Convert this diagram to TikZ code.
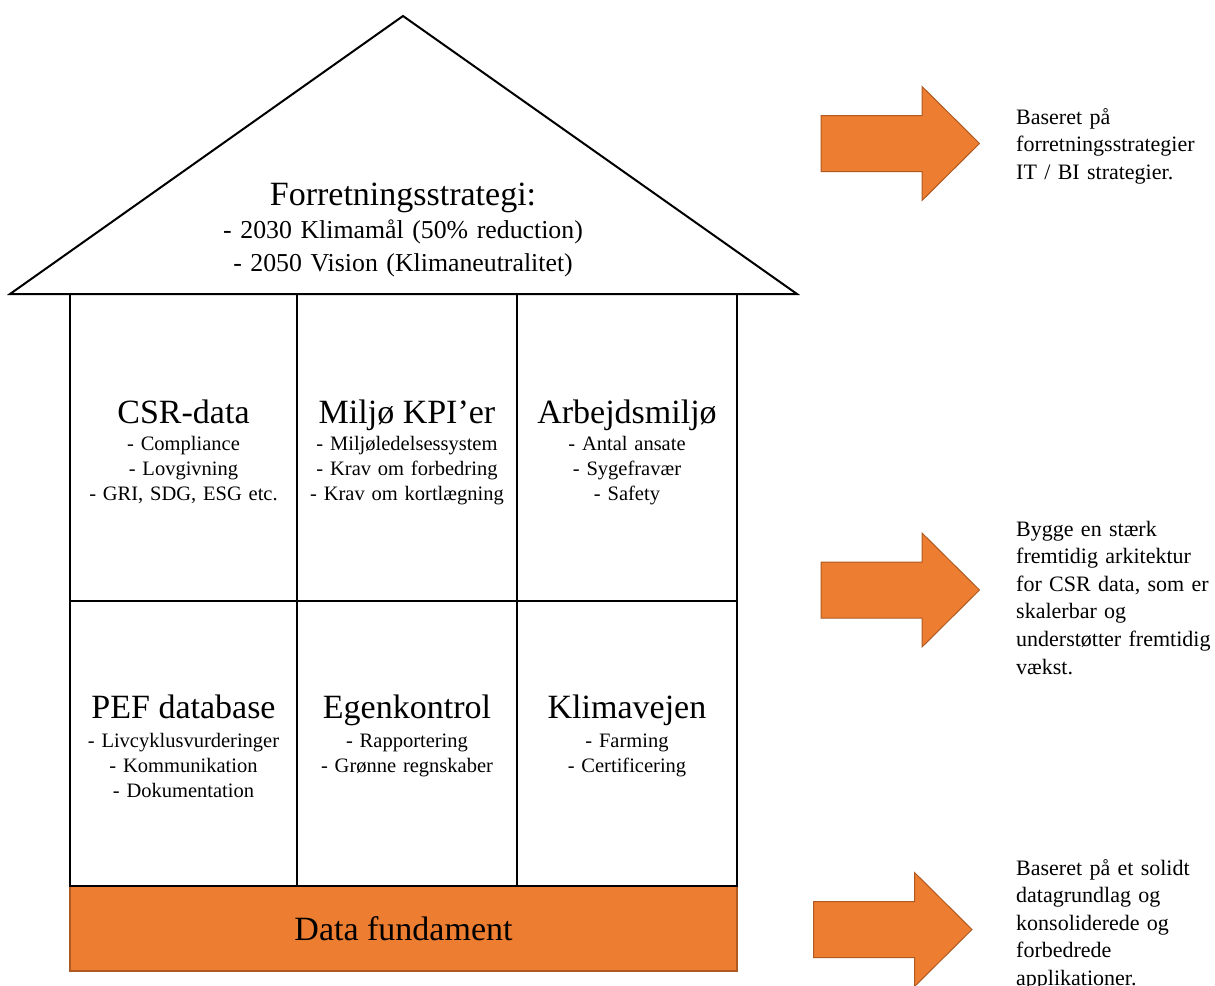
\documentclass[tikz,border=0pt]{standalone}
\usepackage{fontspec}
\setmainfont{Liberation Serif}
\usepackage{tikz}
\definecolor{Fund}{HTML}{ED7D31}
\definecolor{FundLine}{HTML}{AE5A21}

\begin{document}
\begin{tikzpicture}[x=1pt,y=-1pt,
  wall/.style={line width=2pt,draw=black},
  celltitle/.style={anchor=base,inner sep=0pt,font=\fontsize{34}{40}\selectfont},
  cellitems/.style={anchor=base,inner sep=0pt,text width=220pt,align=center,font=\fontsize{20.5}{25}\selectfont},
  sidenote/.style={anchor=base west,inner sep=0pt,text width=215pt,align=left,font=\fontsize{22}{27.6}\selectfont},
  bigarrow/.style={fill=Fund,draw=FundLine,line width=1pt,line join=miter}]
  \useasboundingbox (0,0) rectangle (1215,985);
  % foundation
  \node[fill=Fund,draw=FundLine,line width=1.5pt,minimum width=667pt,minimum height=85pt,inner sep=0pt,font=\fontsize{34}{40}\selectfont] (fund) at (403.5,928.5) {Data fundament};
  % roof and walls
  \draw[wall,line join=miter] (10,294) coordinate (eaveL) -- (403,16) coordinate (apex) -- (797,294) coordinate (eaveR) -- cycle;
  \draw[wall] (70,294) rectangle (737,886);
  \draw[wall] (297,294) -- (297,886) (517,294) -- (517,886) (70,601) -- (737,601);
  % roof text
  \node[celltitle] (strat) at (403,205) {Forretningsstrategi:};
  \node[cellitems,text width=400pt,font=\fontsize{25.8}{33}\selectfont] (stratitems) at (403,238)
    {- 2030 Klimamål (50\% reduction)\\- 2050 Vision (Klimaneutralitet)};
  % upper row
  \node[celltitle] (csr) at (183.5,423) {CSR-data};
  \node[cellitems] (csritems) at (183.5,450) {- Compliance\\- Lovgivning\\- GRI, SDG, ESG etc.};
  \node[celltitle] (kpi) at (407,423) {Miljø KPI’er};
  \node[cellitems] (kpiitems) at (407,450) {- Miljøledelsessystem\\- Krav om forbedring\\- Krav om kortlægning};
  \node[celltitle] (arb) at (627,423) {Arbejdsmiljø};
  \node[cellitems] (arbitems) at (627,450) {- Antal ansate\\- Sygefravær\\- Safety};
  % lower row
  \node[celltitle] (pef) at (183.5,718) {PEF database};
  \node[cellitems] (pefitems) at (183.5,747) {- Livcyklusvurderinger\\- Kommunikation\\- Dokumentation};
  \node[celltitle] (egen) at (407,718) {Egenkontrol};
  \node[cellitems] (egenitems) at (407,747) {- Rapportering\\- Grønne regnskaber};
  \node[celltitle] (klima) at (627,718) {Klimavejen};
  \node[cellitems] (klimaitems) at (627,747) {- Farming\\- Certificering};
  % arrows
  \foreach \ax/\ay in {821/143.5, 821/590, 813.5/929.5}
    \draw[bigarrow,shift={(\ax,\ay)}] (0,-28) -- (101,-28) -- (101,-57) -- (158.5,0) -- (101,57) -- (101,28) -- (0,28) -- cycle;
  % side notes
  \node[sidenote] (note1) at (1016,124) {Baseret på\\forretningsstrategier\\IT / BI strategier.};
  \node[sidenote] (note2) at (1016,536) {Bygge en stærk\\fremtidig arkitektur\\for CSR data, som er\\skalerbar og\\understøtter fremtidig\\vækst.};
  \node[sidenote] (note3) at (1016,875) {Baseret på et solidt\\datagrundlag og\\konsoliderede og\\forbedrede\\applikationer.};
\end{tikzpicture}
\end{document}
